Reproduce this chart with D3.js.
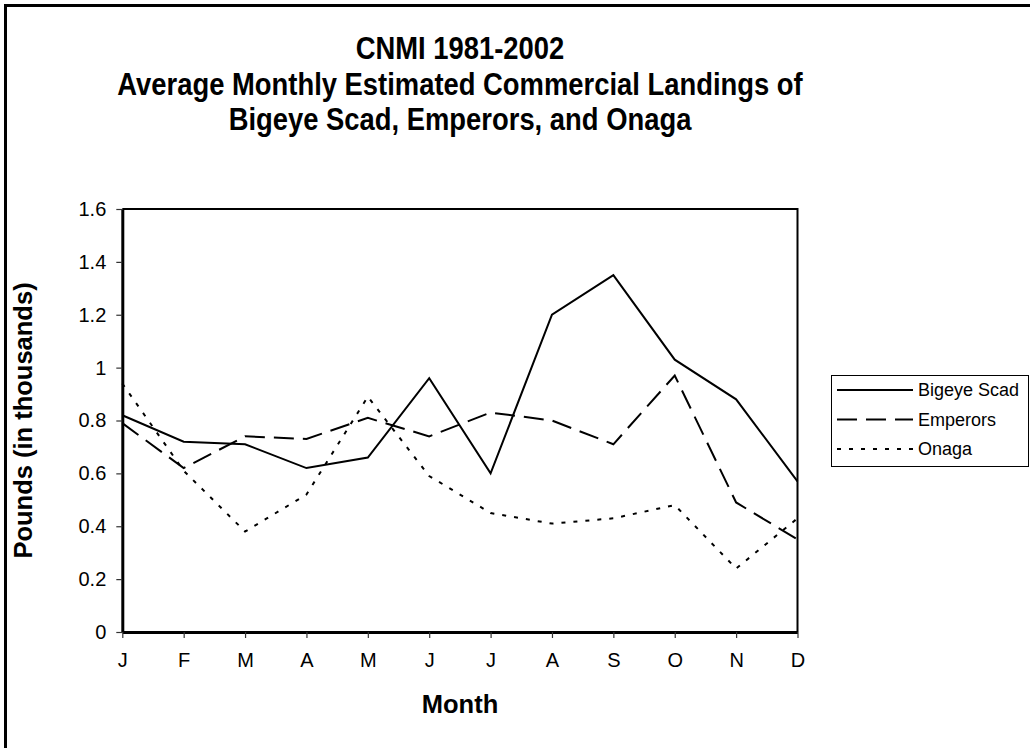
<!DOCTYPE html>
<html>
<head>
<meta charset="utf-8">
<script src="https://cdn.jsdelivr.net/npm/d3@7"></script>
<style>
  html, body { margin: 0; padding: 0; background: #fff; }
  svg { display: block; font-family: "Liberation Sans", Arial, sans-serif; }
</style>
</head>
<body>
<svg id="chart" width="1030" height="748"></svg>
<script>
// --- data (thousands of pounds) ---
const months = ['J','F','M','A','M','J','J','A','S','O','N','D'];
const bigeyeScad = [0.82, 0.72, 0.71, 0.62, 0.66, 0.96, 0.60, 1.20, 1.35, 1.03, 0.88, 0.57];
const emperors   = [0.79, 0.62, 0.74, 0.73, 0.81, 0.74, 0.83, 0.80, 0.71, 0.97, 0.49, 0.35];
const onaga      = [0.94, 0.61, 0.38, 0.52, 0.89, 0.59, 0.45, 0.41, 0.43, 0.48, 0.24, 0.43];
const yTicks = [0, 0.2, 0.4, 0.6, 0.8, 1, 1.2, 1.4, 1.6];
const titleLines = ['CNMI 1981-2002', 'Average Monthly Estimated Commercial Landings of', 'Bigeye Scad, Emperors, and Onaga'];

const series = [
  { name: 'Bigeye Scad', values: bigeyeScad, dash: null },
  { name: 'Emperors',    values: emperors,   dash: '20,9' },
  { name: 'Onaga',       values: onaga,      dash: '4,8' },
];

const svg = d3.select('#chart');
const plotL = 122.3, plotR = 797.5, plotT = 209, plotB = 632;
const FONT = '"Liberation Sans", Arial, sans-serif';

// outer frame (only left/top visible in the picture)
svg.append('rect').attr('x', 5.5).attr('y', 5.5).attr('width', 1100).attr('height', 900)
  .attr('fill', '#fff').attr('stroke', '#000').attr('stroke-width', 3);

// title (the original is slightly stretched vertically)
svg.append('g').selectAll('text').data(titleLines).enter().append('text')
  .attr('transform', (d, i) => `translate(460,${59 + i * 35.5}) scale(1,1.15)`)
  .attr('text-anchor', 'middle').attr('font-weight', 'bold').attr('font-size', '27.4px')
  .text(d => d);

const x = d3.scalePoint().domain(d3.range(months.length)).range([plotL, plotR]);
const y = d3.scaleLinear().domain([0, 1.6]).range([plotB, plotT]);

// plot frame top/right
svg.append('path')
  .attr('d', `M${plotL},${plotT}H${plotR}V${plotB}`)
  .attr('fill', 'none').attr('stroke', '#000').attr('stroke-width', 2);

// y axis
const yAxis = svg.append('g').attr('transform', `translate(${plotL},0)`)
  .call(d3.axisLeft(y).tickValues(yTicks).tickSize(6).tickSizeOuter(0).tickPadding(10)
    .tickFormat(d => String(+d.toFixed(1))));
yAxis.select('.domain').attr('stroke-width', 3);
yAxis.selectAll('.tick line').attr('stroke', '#333').attr('stroke-width', 1.2);
yAxis.selectAll('text').attr('font-size', '20px').attr('font-family', FONT).attr('fill', '#000');

// x axis
const xAxis = svg.append('g').attr('transform', `translate(0,${plotB})`)
  .call(d3.axisBottom(x).tickSize(6).tickSizeOuter(0).tickPadding(15).tickFormat(i => months[i]));
xAxis.select('.domain').attr('stroke-width', 3);
xAxis.selectAll('.tick line').attr('stroke', '#333').attr('stroke-width', 1.2);
xAxis.selectAll('text').attr('font-size', '20px').attr('font-family', FONT).attr('fill', '#000');

// axis titles
svg.append('text').attr('x', 460).attr('y', 713).attr('text-anchor', 'middle')
  .attr('font-weight', 'bold').attr('font-size', '25.5px').text('Month');
svg.append('text').attr('transform', `translate(32,${(plotT + plotB) / 2}) rotate(-90)`)
  .attr('text-anchor', 'middle').attr('font-weight', 'bold').attr('font-size', '25.5px')
  .text('Pounds (in thousands)');

// lines
const line = d3.line().x((d, i) => x(i)).y(d => y(d));
svg.append('g').selectAll('path').data(series).enter().append('path')
  .attr('d', d => line(d.values))
  .attr('fill', 'none').attr('stroke', '#000').attr('stroke-width', 2)
  .attr('stroke-dasharray', d => d.dash);

// legend
const legend = svg.append('g').attr('transform', 'translate(831,375)');
legend.append('rect').attr('x', 0.5).attr('y', 0.5).attr('width', 197).attr('height', 91)
  .attr('fill', '#fff').attr('stroke', '#000').attr('stroke-width', 1);
const item = legend.selectAll('g.item').data(series).enter().append('g')
  .attr('class', 'item').attr('transform', (d, i) => `translate(0,${15 + i * 29.5})`);
item.append('line').attr('x1', 6).attr('x2', 82).attr('stroke', '#000').attr('stroke-width', 2)
  .attr('stroke-dasharray', d => d.dash);
item.append('text').attr('x', 87).attr('dy', '0.35em').attr('font-size', '18px').text(d => d.name);
</script>
</body>
</html>
